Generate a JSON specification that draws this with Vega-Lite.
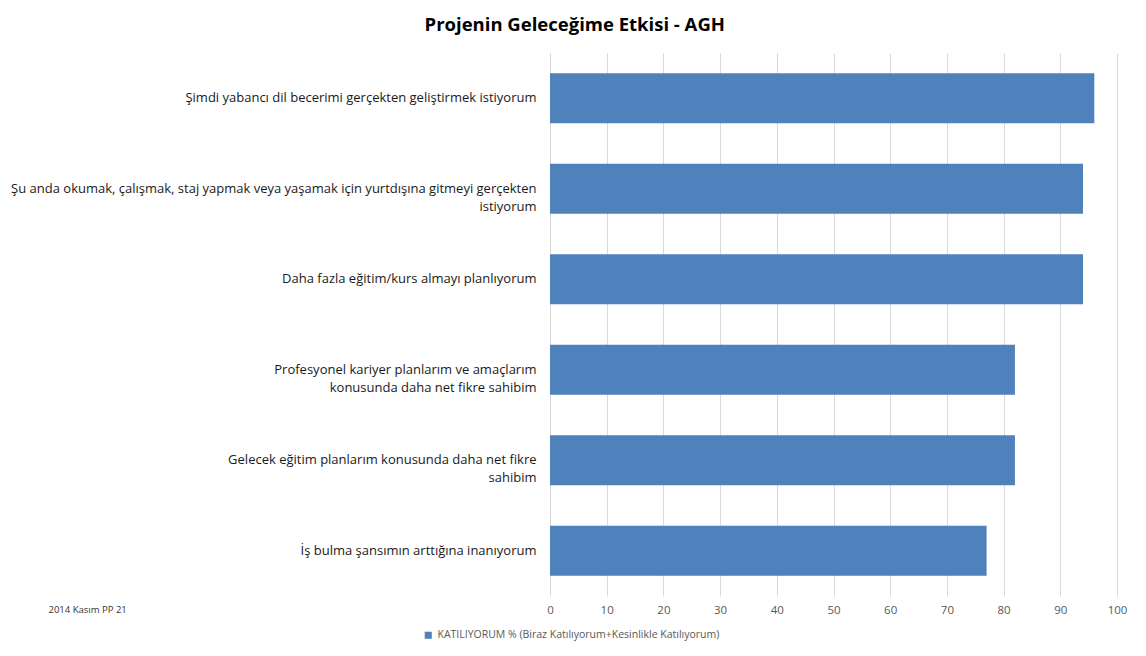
{
  "$schema": "https://vega.github.io/schema/vega-lite/v6.json",
  "width": 1146,
  "height": 656,
  "autosize": {"type": "fit", "contains": "padding"},
  "padding": {"left": 10, "right": 19, "top": 15, "bottom": 40},
  "background": "white",
  "title": {
    "text": "Projenin Geleceğime Etkisi - AGH",
    "font": "Open Sans",
    "fontSize": 18.5,
    "fontWeight": "bold",
    "color": "#000000",
    "anchor": "middle",
    "frame": "bounds",
    "dx": 6,
    "offset": 19
  },
  "data": {
    "values": [
      {"order": 1, "statement": "Şimdi yabancı dil becerimi gerçekten geliştirmek istiyorum", "value": 96, "series": "KATILIYORUM % (Biraz Katılıyorum+Kesinlikle Katılıyorum)"},
      {"order": 2, "statement": "Şu anda okumak, çalışmak, staj yapmak veya yaşamak için yurtdışına gitmeyi gerçekten\nistiyorum", "value": 94, "series": "KATILIYORUM % (Biraz Katılıyorum+Kesinlikle Katılıyorum)"},
      {"order": 3, "statement": "Daha fazla eğitim/kurs almayı planlıyorum", "value": 94, "series": "KATILIYORUM % (Biraz Katılıyorum+Kesinlikle Katılıyorum)"},
      {"order": 4, "statement": "Profesyonel kariyer planlarım ve amaçlarım\nkonusunda daha net fikre sahibim", "value": 82, "series": "KATILIYORUM % (Biraz Katılıyorum+Kesinlikle Katılıyorum)"},
      {"order": 5, "statement": "Gelecek eğitim planlarım konusunda daha net fikre\nsahibim", "value": 82, "series": "KATILIYORUM % (Biraz Katılıyorum+Kesinlikle Katılıyorum)"},
      {"order": 6, "statement": "İş bulma şansımın arttığına inanıyorum", "value": 77, "series": "KATILIYORUM % (Biraz Katılıyorum+Kesinlikle Katılıyorum)"}
    ]
  },
  "mark": {"type": "bar"},
  "encoding": {
    "y": {
      "field": "statement",
      "type": "nominal",
      "sort": {"field": "order", "order": "ascending"},
      "scale": {"paddingInner": 0.45, "paddingOuter": 0.225},
      "axis": {
        "title": null,
        "labelExpr": "split(datum.value, '\\n')",
        "labelFont": "Open Sans",
        "labelFontSize": 13,
        "labelColor": "#1a1a1a",
        "labelPadding": 14,
        "labelLimit": 700,
        "labelLineHeight": 18,
        "ticks": false,
        "domain": false,
        "grid": false
      }
    },
    "x": {
      "field": "value",
      "type": "quantitative",
      "scale": {"domain": [0, 100], "nice": false},
      "axis": {
        "values": [0, 10, 20, 30, 40, 50, 60, 70, 80, 90, 100],
        "labelFlush": false,
        "title": "2014 Kasım PP 21",
        "titleX": -502,
        "titleY": 13,
        "titleAlign": "left",
        "titleBaseline": "middle",
        "titleAnchor": null,
        "titleFont": "Open Sans",
        "titleFontSize": 9.5,
        "titleFontWeight": "normal",
        "titleColor": "#333333",
        "labelFont": "Open Sans",
        "labelFontSize": 11.5,
        "labelColor": "#595959",
        "labelPadding": 8,
        "ticks": false,
        "domain": false,
        "grid": true,
        "gridColor": "#d9d9d9",
        "gridWidth": 1
      }
    },
    "color": {
      "field": "series",
      "type": "nominal",
      "scale": {"range": ["#4f81bd"]},
      "legend": {
        "title": null,
        "orient": "none",
        "legendX": -127,
        "legendY": 577,
        "symbolType": "square",
        "symbolSize": 50,
        "symbolStrokeWidth": 0,
        "labelFont": "Open Sans",
        "labelFontSize": 10.5,
        "labelColor": "#595959",
        "labelLimit": 500
      }
    }
  },
  "config": {
    "view": {"stroke": null}
  }
}
